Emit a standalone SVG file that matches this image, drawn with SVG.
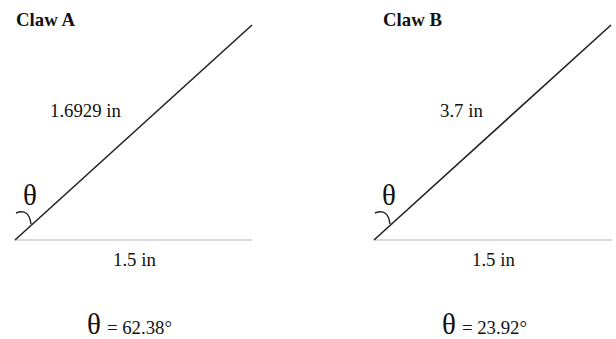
<svg xmlns="http://www.w3.org/2000/svg" width="616" height="339" viewBox="0 0 616 339">
<style>
text{font-family:"Liberation Serif","Times New Roman",serif;font-size:18.8px;fill:#111}
.title{font-weight:bold}
.th{font-size:29px}
.diag{stroke:#222;stroke-width:1.6;fill:none}
.base{stroke:#cfcfcf;stroke-width:1.6;fill:none}
.arc{stroke:#222;stroke-width:1.4;fill:none}
</style>
<rect width="616" height="339" fill="#fff"/>
<g id="connectors">
<line class="base" x1="15" y1="240" x2="252" y2="240"/>
<line class="diag" x1="15" y1="240" x2="252" y2="25"/>
<path class="arc" d="M16,213 Q29,208 31,224"/>
<line class="base" x1="374" y1="240" x2="612" y2="240"/>
<line class="diag" x1="374" y1="240" x2="611" y2="25"/>
<path class="arc" d="M375,213 Q388,208 390,224"/>
</g>
<g id="clawA">
<text class="title" x="16" y="26">Claw A</text>
<text x="50" y="117">1.6929 in</text>
<text class="th" x="23" y="205">θ</text>
<text x="113" y="266">1.5 in</text>
<text x="87" y="334"><tspan class="th">θ</tspan><tspan dx="6">= 62.38°</tspan></text>
</g>
<g id="clawB">
<text class="title" x="383" y="26">Claw B</text>
<text x="440" y="117">3.7 in</text>
<text class="th" x="382" y="205">θ</text>
<text x="472" y="266">1.5 in</text>
<text x="442" y="334"><tspan class="th">θ</tspan><tspan dx="6">= 23.92°</tspan></text>
</g>
</svg>
